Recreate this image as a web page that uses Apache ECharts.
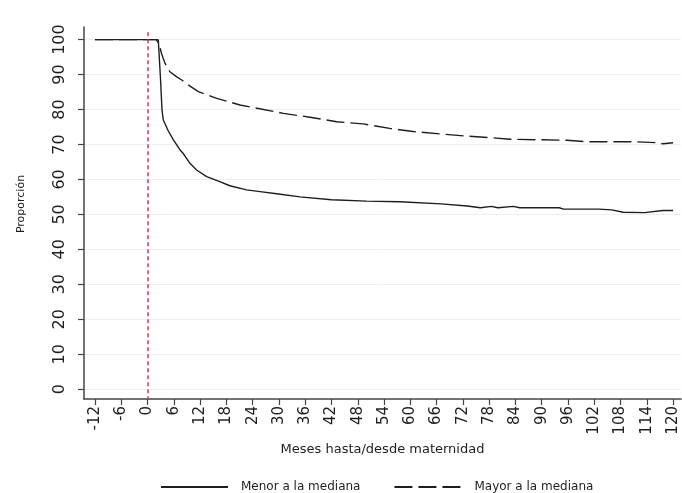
<!DOCTYPE html>
<html>
<head>
<meta charset="utf-8">
<script src="https://cdn.jsdelivr.net/npm/echarts@6/dist/echarts.min.js"></script>
<style>
  html, body { margin: 0; padding: 0; background: #ffffff; }
  #chart { width: 682px; height: 493px; }
</style>
</head>
<body>
<div id="chart"></div>
<script>
// Tick positions on each axis
const xTicks = [-12, -6, 0, 6, 12, 18, 24, 30, 36, 42, 48, 54, 60, 66, 72, 78, 84, 90, 96, 102, 108, 114, 120];
const yTicks = [0, 10, 20, 30, 40, 50, 60, 70, 80, 90, 100];

// Series labels
const seriesNames = ['Menor a la mediana', 'Mayor a la mediana'];

// Proportion still in the state, by months relative to maternity (month, %)
const menorMediana = [
  [-12, 100], [2, 100], [2.5, 99], [3, 88], [3.3, 80], [3.6, 77], [4.7, 74],
  [5.9, 71.3], [7.4, 68.5], [8.1, 67.5], [9.7, 64.6], [11.2, 62.7], [13.5, 60.8],
  [16.5, 59.4], [18.8, 58.2], [22.6, 57], [25.7, 56.5], [29.5, 55.9], [34.8, 55],
  [42, 54.2], [50, 53.8], [57.6, 53.6], [67, 53], [73, 52.4], [76, 51.9],
  [78.5, 52.3], [80, 51.9], [83.5, 52.3], [85, 51.9], [94, 51.9], [95, 51.5],
  [103, 51.5], [106, 51.3], [108.6, 50.6], [113.5, 50.5], [117.7, 51.1], [120, 51.1]
];
const mayorMediana = [
  [-12, 100], [2.4, 100], [3.2, 96], [4, 93.2], [5.1, 90.8], [6.6, 89.4], [8, 88.3],
  [9.7, 86.7], [11.6, 85.1], [15.8, 83.2], [21.1, 81.3], [25.3, 80.3], [31, 78.9],
  [37.1, 77.8], [43.2, 76.5], [49.2, 75.9], [55.3, 74.6], [60.6, 73.7], [67, 73],
  [72.8, 72.4], [78.9, 71.9], [82.7, 71.5], [95.7, 71.2], [100.2, 70.8], [110.9, 70.8],
  [116.2, 70.5], [117.7, 70.2], [120, 70.5]
];

// Reference line at the month of maternity
const maternityMonth = 0;

const FONT = 'DejaVu Sans';
const INK = '#1e1e1e';

const chart = echarts.init(document.getElementById('chart'), null, { renderer: 'canvas' });

chart.setOption({
  animation: false,
  backgroundColor: '#ffffff',
  grid: { left: 84, right: 1, top: 27, bottom: 94, containLabel: false },
  xAxis: {
    type: 'value',
    min: -14.5,
    max: 121.8,
    name: 'Meses hasta/desde maternidad',
    nameLocation: 'middle',
    nameGap: 44,
    nameTextStyle: { fontFamily: FONT, fontSize: 13, color: INK },
    axisLine: { show: true, onZero: false, lineStyle: { color: '#444', width: 1.5 } },
    axisTick: { show: true, length: 6, customValues: xTicks, lineStyle: { color: '#444', width: 1.2 } },
    axisLabel: {
      customValues: xTicks,
      rotate: 90,
      margin: 7,
      fontFamily: FONT,
      fontSize: 15,
      color: INK
    },
    splitLine: { show: false }
  },
  yAxis: {
    type: 'value',
    min: -2.8,
    max: 103.6,
    name: 'Proporción',
    nameLocation: 'middle',
    nameGap: 57,
    nameTextStyle: { fontFamily: FONT, fontSize: 11, color: INK, padding: [0, 0, 0, 18] },
    axisLine: { show: true, onZero: false, lineStyle: { color: '#444', width: 1.5 } },
    axisTick: { show: true, length: 6, customValues: yTicks, lineStyle: { color: '#444', width: 1.2 } },
    axisLabel: {
      customValues: yTicks,
      rotate: 90,
      margin: 16,
      fontFamily: FONT,
      fontSize: 16,
      color: INK
    },
    splitLine: { show: true, lineStyle: { color: '#eaf0f2', width: 1 } }
  },
  legend: {
    bottom: 0,
    left: 160,
    padding: 0,
    itemWidth: 67,
    itemHeight: 10,
    itemGap: 33,
    itemStyle: { opacity: 0 },
    textStyle: { fontFamily: FONT, fontSize: 12, color: INK, padding: [0, 0, 0, 8] },
    data: seriesNames
  },
  series: [
    {
      name: seriesNames[0],
      type: 'line',
      data: menorMediana,
      showSymbol: false,
      symbol: 'none',
      lineStyle: { color: INK, width: 1.4, type: 'solid' },
      itemStyle: { color: INK },
      markLine: {
        silent: true,
        symbol: 'none',
        label: { show: false },
        lineStyle: { color: '#d8345f', width: 1.5, type: [4, 3] },
        data: [[{ coord: [maternityMonth, 102.1] }, { coord: [maternityMonth, -2.8] }]]
      },
      z: 3
    },
    {
      name: seriesNames[1],
      type: 'line',
      data: mayorMediana,
      showSymbol: false,
      symbol: 'none',
      lineStyle: { color: INK, width: 1.4, type: [18, 6] },
      itemStyle: { color: INK },
      z: 3
    }
  ]
});
</script>
</body>
</html>
